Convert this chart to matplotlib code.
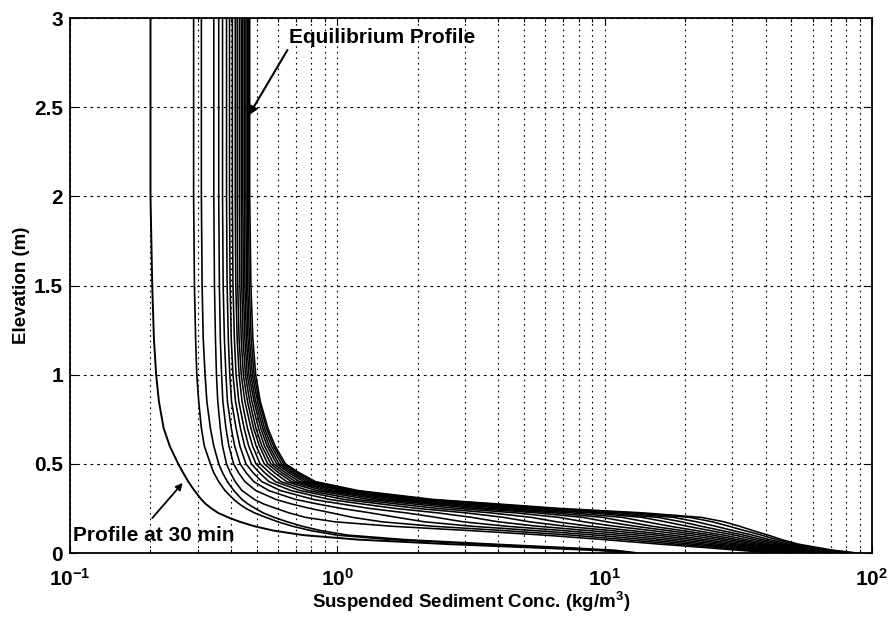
#!/usr/bin/env python
"""
Suspended sediment concentration profiles, from the 30 min profile
up to the equilibrium profile.
"""

# Third party modules.
import matplotlib
matplotlib.use("Agg")
import matplotlib.pyplot as plt
from matplotlib.ticker import LogLocator, NullFormatter

# Globals and constants variables.
ELEVATIONS_m = [3.0, 2.0, 1.5, 1.2, 1.0, 0.85, 0.7, 0.6, 0.5, 0.45, 0.4, 0.35, 0.3,
                0.275, 0.25, 0.225, 0.2, 0.175, 0.15, 0.125, 0.1, 0.075, 0.05, 0.03,
                0.015, 0.0]

# Early profiles (30 min and the next two), kg/m3.
PROFILE_30MIN = [0.2, 0.2, 0.203, 0.206, 0.21, 0.215, 0.224, 0.236, 0.254, 0.265, 0.277, 0.292, 0.31,
                 0.322, 0.338, 0.358, 0.39, 0.432, 0.49, 0.58, 0.75, 1.2, 2.6, 5.5, 9.5, 12.5]
PROFILE_B1 = [0.29, 0.29, 0.292, 0.295, 0.298, 0.303, 0.31, 0.318, 0.335, 0.345, 0.36, 0.38, 0.41,
              0.43, 0.455, 0.49, 0.54, 0.6, 0.68, 0.8, 1.0, 1.6, 3.4, 6.5, 10.5, 13.0]
PROFILE_B2 = [0.31, 0.31, 0.312, 0.315, 0.32, 0.325, 0.335, 0.345, 0.36, 0.372, 0.388, 0.41, 0.44,
              0.463, 0.493, 0.528, 0.58, 0.65, 0.74, 0.87, 1.1, 1.8, 3.8, 7.2, 11.0, 13.3]

# Later profiles, the last one is the equilibrium profile.
LATE_PROFILES = [
    [.345, .345, .347, .35, .353, .357, .365, .372, .385, .398, .415, .44, .49, .53, .59, .66, .76, .98, 1.6, 3.2, 6.0, 10, 16, 24, 32, 43],
    [.36, .36, .362, .365, .369, .373, .383, .393, .409, .427, .451, .496, .59, .675, .791, .952, 1.14, 1.47, 2.29, 4.28, 7.55, 12.0, 18.5, 27.0, 35.3, 46.9],
    [.372, .372, .374, .378, .383, .388, .401, .413, .433, .456, .487, .554, .699, .843, 1.035, 1.33, 1.67, 2.12, 3.19, 5.58, 9.34, 14.2, 21.1, 30.0, 38.6, 50.7],
    [.385, .385, .387, .391, .396, .402, .418, .432, .455, .484, .522, .613, .816, 1.033, 1.32, 1.81, 2.34, 2.96, 4.3, 7.11, 11.3, 16.5, 23.7, 33.0, 41.8, 54.4],
    [.395, .395, .397, .401, .407, .416, .434, .45, .477, .511, .555, .671, .938, 1.239, 1.65, 2.38, 3.18, 4.0, 5.63, 8.85, 13.4, 19.0, 26.4, 36.0, 45.0, 58.1],
    [.405, .405, .407, .412, .418, .428, .448, .466, .496, .535, .587, .727, 1.062, 1.456, 2.0, 3.04, 4.18, 5.24, 7.16, 10.7, 15.7, 21.5, 29.1, 38.9, 48.0, 61.5],
    [.415, .415, .417, .422, .429, .44, .461, .482, .514, .558, .616, .779, 1.183, 1.677, 2.38, 3.76, 5.31, 6.62, 8.82, 12.7, 17.9, 23.9, 31.7, 41.6, 50.8, 64.7],
    [.422, .422, .424, .429, .437, .451, .475, .497, .533, .582, .647, .836, 1.318, 1.932, 2.82, 4.66, 6.74, 8.38, 10.9, 15.1, 20.5, 26.6, 34.4, 44.5, 53.8, 68.0],
    [.43, .43, .432, .437, .445, .461, .486, .511, .549, .603, .674, .888, 1.447, 2.182, 3.27, 5.6, 8.27, 10.2, 13.0, 17.4, 23.0, 29.1, 37.0, 47.2, 56.4, 71.0],
    [.437, .437, .439, .444, .453, .47, .496, .522, .564, .621, .698, .934, 1.563, 2.414, 3.69, 6.52, 9.8, 12.1, 15.1, 19.7, 25.4, 31.4, 39.3, 49.5, 58.8, 73.6],
    [.443, .443, .445, .451, .46, .479, .507, .534, .578, .640, .723, .982, 1.688, 2.670, 4.17, 7.6, 11.6, 14.3, 17.6, 22.2, 27.9, 33.9, 41.7, 51.9, 61.2, 76.3],
    [.449, .449, .451, .457, .467, .488, .517, .546, .593, .659, .748, 1.032, 1.824, 2.954, 4.71, 8.86, 13.8, 16.9, 20.4, 25.0, 30.7, 36.6, 44.3, 54.5, 63.7, 79.0],
    [.455, .455, .457, .463, .474, .495, .526, .556, .605, .675, .769, 1.074, 1.940, 3.203, 5.2, 10.0, 15.8, 19.4, 23.0, 27.6, 33.2, 38.9, 46.5, 56.7, 65.9, 81.3],
    [.46, .46, .462, .469, .481, .503, .534, .567, .618, .691, .791, 1.118, 2.063, 3.473, 5.73, 11.3, 18.1, 22.1, 26.0, 30.4, 35.8, 41.4, 48.7, 58.9, 68.0, 83.7],
    [.465, .465, .468, .476, .488, .51, .543, .577, .63, .707, .813, 1.164, 2.196, 3.765, 6.32, 12.8, 20.8, 25.3, 29.2, 33.5, 38.7, 44.0, 51.1, 61.2, 70.3, 86.1],
    [.47, .47, .475, .483, .495, .515, .55, .585, .64, .72, .83, 1.2, 2.3, 4.0, 6.8, 14.0, 23.0, 28.0, 32.0, 36.0, 41.0, 46.0, 53.0, 63.0, 72.0, 88.0],
]

X_TICKS = [0.1, 1.0, 10.0, 100.0]
X_TICK_LABELS = [r"$10^{-1}$", r"$10^{0}$", r"$10^{1}$", r"$10^{2}$"]
Y_TICKS = [0, 0.5, 1, 1.5, 2, 2.5, 3]
Y_TICK_LABELS = ["0", "0.5", "1", "1.5", "2", "2.5", "3"]


def run():
    plt.rcParams["font.family"] = ["Liberation Sans", "DejaVu Sans"]
    plt.rcParams["font.weight"] = "bold"
    plt.rcParams["mathtext.fontset"] = "custom"
    plt.rcParams["mathtext.rm"] = "Liberation Sans:bold"
    plt.rcParams["mathtext.it"] = "Liberation Sans:bold"
    plt.rcParams["mathtext.bf"] = "Liberation Sans:bold"

    fig = plt.figure(figsize=(8.91, 6.17), dpi=100)
    ax = fig.add_axes([0.0786, 0.1037, 0.9, 0.867])

    ax.plot(PROFILE_30MIN, ELEVATIONS_m, color="black", linewidth=1.4)
    ax.plot(PROFILE_B1, ELEVATIONS_m, color="black", linewidth=1.2)
    ax.plot(PROFILE_B2, ELEVATIONS_m, color="black", linewidth=1.2)
    for profile in LATE_PROFILES:
        ax.plot(profile, ELEVATIONS_m, color="black", linewidth=1.15)

    ax.set_xscale("log")
    ax.set_xlim(0.1, 100.0)
    ax.set_ylim(0.0, 3.0)

    ax.set_xticks(X_TICKS)
    ax.set_xticklabels(X_TICK_LABELS)
    ax.xaxis.set_minor_locator(LogLocator(base=10.0, subs=range(2, 10)))
    ax.xaxis.set_minor_formatter(NullFormatter())
    ax.set_yticks(Y_TICKS)
    ax.set_yticklabels(Y_TICK_LABELS)

    ax.tick_params(which="both", direction="in", top=True, right=True,
                   labelsize=15, length=5, width=0.8)
    ax.tick_params(axis="x", which="major", pad=11)
    ax.tick_params(axis="y", which="major", pad=5)
    ax.tick_params(which="minor", length=3)

    ax.grid(True, which="both", axis="x", color="black", linestyle=(0, (1.5, 3.5)), linewidth=0.8)
    ax.grid(True, which="major", axis="y", color="black", linestyle=(0, (2.5, 3.5)), linewidth=0.8)
    ax.set_axisbelow(True)

    for spine in ax.spines.values():
        spine.set_linewidth(1.3)

    ax.set_xlabel("Suspended Sediment Conc. (kg/m$^3$)", fontsize=13.5, fontweight="bold", labelpad=0)
    ax.set_ylabel("Elevation (m)", fontsize=13.5, fontweight="bold", labelpad=3)

    ax.annotate("Equilibrium Profile", xy=(0.467, 2.456), xytext=(0.66, 2.89),
                fontsize=15, fontweight="bold", va="center", ha="left",
                arrowprops=dict(arrowstyle="-|>", color="black", lw=1.5,
                                shrinkA=0, shrinkB=0, mutation_scale=12,
                                relpos=(0.0, 0.0)))
    ax.annotate("", xy=(0.264, 0.393), xytext=(0.203, 0.196),
                arrowprops=dict(arrowstyle="-|>", color="black", lw=1.3,
                                shrinkA=0, shrinkB=0, mutation_scale=10))
    ax.text(0.1025, 0.1, "Profile at 30 min", fontsize=15, fontweight="bold",
            va="center", ha="left")

    fig.savefig("out.png", dpi=100, facecolor="white")


if __name__ == '__main__':  #pragma: no cover
    run()
